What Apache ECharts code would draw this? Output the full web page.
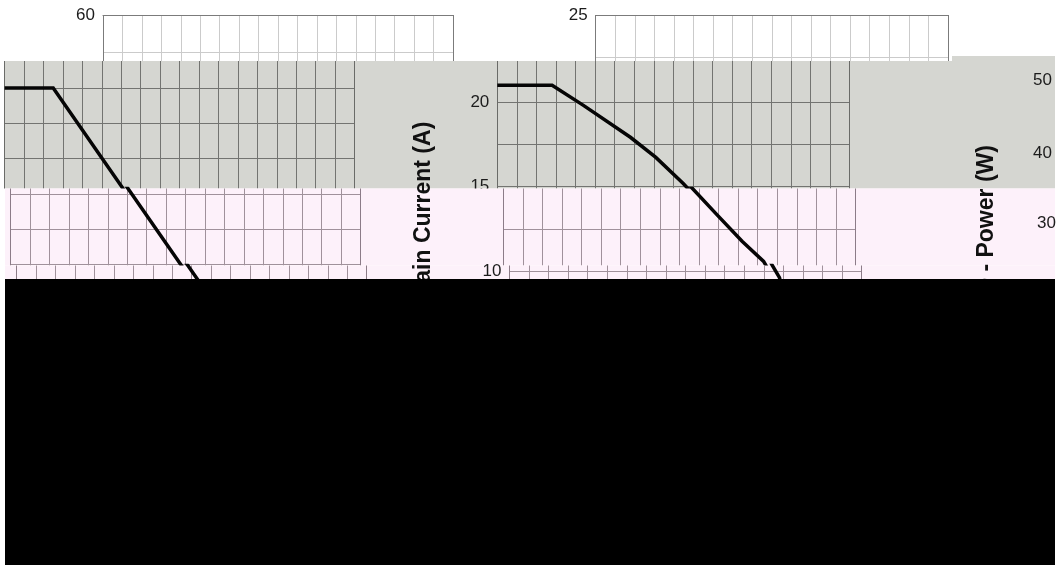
<!DOCTYPE html>
<html>
<head>
<meta charset="utf-8">
<script src="https://cdn.jsdelivr.net/npm/echarts@6/dist/echarts.min.js"></script>
<style>
html,body{margin:0;padding:0;background:#ffffff;}
#c{width:1059px;height:565px;}
</style>
</head>
<body>
<div id="c"></div>
<script>
// ---------------- data ----------------
// Chart 1 : drain current derating (A) vs case temperature (°C)
const chart1Temp    = [0, 25, 150];
const chart1Current = [50, 50, 0];
// Chart 2 : drain current (A) vs case temperature (°C)
const chart2Temp    = [0, 28, 44, 68, 81, 95, 109, 122, 133, 138, 145, 148, 150];
const chart2Current = [21, 21, 19.8, 17.9, 16.7, 15.15, 13.4, 11.8, 10.6, 9.6, 6.3, 4.0, 0];
// x axis (temperature) range and step
const xMin = 0, xMax = 180, xStep = 10;
// y grid lines and tick labels
const chart1GridValues  = [0, 5, 10, 15, 20, 25, 30, 35, 40, 45, 50, 55, 60];
const chart1LabelValues = [0, 10, 20, 30, 40, 50, 60];
const chart2GridValues  = [0, 2.5, 5, 7.5, 10, 12.5, 15, 17.5, 20, 22.5, 25];
const chart2LabelValues = [0, 5, 10, 15, 20, 25];
const chart3LabelValues = [0, 10, 20, 30, 40, 50, 60];
const chart2Title = 'ID - Drain Current (A)';
const chart3Title = 'PD - Power (W)';

// ---------------- layout (image bands) ----------------
const FONT = '"Liberation Sans", Arial, sans-serif';
const BANDS = [
  {top: 15,    bottom: 61,    dx: 0,     dy: 0,   bg: null,      line: '#cbcbcb', border: '#7b7b7b', labels1: true},
  {top: 61,    bottom: 188.5, dx: -98.4, dy: 3,   bg: '#d5d6d1', line: '#737471', border: '#6a6b68', labels1: false},
  {top: 188.5, bottom: 265.5, dx: -92.4, dy: 4.5, bg: '#fdf1fa', line: '#a0919b', border: '#8c7c88', labels1: false},
  {top: 265.5, bottom: 279,   dx: -86.3, dy: 4,   bg: '#fdf1fa', line: '#a0919b', border: '#8c7c88', labels1: false}
];
const CHARTS = [
  {left: 103,   width: 350,   top0: 15, vTop: 60, ppu: 7,    ppuA: 7.4,
   grid: chart1GridValues, labels: chart1LabelValues, temp: chart1Temp, val: chart1Current, id: 1},
  {left: 595.7, width: 352.3, top0: 15, vTop: 25, ppu: 16.8, ppuA: 16.8,
   grid: chart2GridValues, labels: chart2LabelValues, temp: chart2Temp, val: chart2Current, id: 2}
];
const CHART3 = {
  1: {left: 1060, anchorVal: 50, anchorY: 80,    ppu: 7.38},
  2: {left: 1064, anchorVal: 30, anchorY: 223.3, ppu: 7.38}
};

function inRange(arr, lo, hi) { return arr.filter(v => v >= lo - 1e-6 && v <= hi + 1e-6); }

const grids = [], xAxes = [], yAxes = [], series = [], graphics = [];

BANDS.forEach((b, bi) => {
  const z = 10 * bi + 5;
  if (b.bg) {
    graphics.push({type: 'rect', silent: true, z: 10 * bi + 1,
      shape: {x: 5, y: b.top, width: 1050, height: b.bottom - b.top}, style: {fill: b.bg}});
  }
  CHARTS.forEach(c => {
    const y0 = c.top0 + b.dy;
    const ppu = bi === 0 ? c.ppuA : c.ppu;
    const max = c.vTop - (b.top - y0) / ppu;
    const min = c.vTop - (b.bottom - y0) / ppu;
    const gi = grids.length;
    grids.push({left: c.left + b.dx, top: b.top, width: c.width, height: b.bottom - b.top,
      containLabel: false, outerBoundsMode: 'none', show: false, z: z});
    const nLines = Math.round((xMax - xMin) / xStep) + 1;
    const xColors = [];
    for (let i = 0; i < nLines; i++) xColors.push((i === 0 || i === nLines - 1) ? b.border : b.line);
    xAxes.push({gridIndex: gi, type: 'value', min: xMin, max: xMax, interval: xStep,
      position: bi === 0 ? 'top' : 'bottom', z: z,
      axisLine: {show: bi === 0, onZero: false, lineStyle: {color: b.border, width: 1}},
      axisTick: {show: false}, axisLabel: {show: false},
      splitLine: {show: true, lineStyle: {color: xColors, width: 1}}});
    let gv = inRange(c.grid, min, max);
    if (bi === 0) gv = gv.filter(v => Math.abs(v - c.vTop) > 1e-6);
    const showLab = (c.id === 2) || b.labels1;
    yAxes.push({gridIndex: gi, type: 'value', min: min, max: max, z: z,
      axisLine: {show: false},
      axisTick: {show: false, customValues: gv},
      axisLabel: {show: showLab, customValues: inRange(c.labels, min, max), margin: 8,
        fontSize: 17, color: '#1c1c1c', fontFamily: FONT},
      splitLine: {show: gv.length > 0, lineStyle: {color: b.line, width: 1}}});
    series.push({type: 'line', xAxisIndex: gi, yAxisIndex: gi, z: z + 1,
      data: c.temp.map((t, i) => [t, c.val[i]]),
      symbol: 'none', showSymbol: false, clip: true, silent: true,
      lineStyle: {color: '#050505', width: 3.5, join: 'miter'}});
  });
  // third chart (only its value labels are visible)
  const c3 = CHART3[bi];
  if (c3) {
    const max = c3.anchorVal + (c3.anchorY - b.top) / c3.ppu;
    const min = c3.anchorVal - (b.bottom - c3.anchorY) / c3.ppu;
    const gi = grids.length;
    grids.push({left: c3.left, top: b.top, width: 300, height: b.bottom - b.top,
      containLabel: false, outerBoundsMode: 'none', show: false, z: z});
    xAxes.push({gridIndex: gi, type: 'value', min: xMin, max: xMax, show: false});
    yAxes.push({gridIndex: gi, type: 'value', min: min, max: max, z: z,
      axisLine: {show: false}, axisTick: {show: false},
      axisLabel: {show: true, customValues: inRange(chart3LabelValues, min, max), margin: 8,
        fontSize: 17, color: '#1c1c1c', fontFamily: FONT},
      splitLine: {show: false}});
  }
});

// small gray step at the top right of the gray band
graphics.push({type: 'rect', silent: true, z: 11,
  shape: {x: 952, y: 56, width: 103, height: 5}, style: {fill: '#d5d6d1'}});

// axis titles
graphics.push({type: 'text', silent: true, z: 90, x: 424, y: 236.7, rotation: Math.PI / 2,
  style: {text: chart2Title, font: 'bold 23px ' + FONT, fill: '#111111',
    align: 'center', verticalAlign: 'middle', textAlign: 'center', textVerticalAlign: 'middle'}});
graphics.push({type: 'text', silent: true, z: 90, x: 987, y: 227.5, rotation: Math.PI / 2,
  style: {text: chart3Title, font: 'bold 23px ' + FONT, fill: '#111111',
    align: 'center', verticalAlign: 'middle', textAlign: 'center', textVerticalAlign: 'middle'}});

// black lower block
graphics.push({type: 'rect', silent: true, z: 100,
  shape: {x: 5, y: 279, width: 1050, height: 286}, style: {fill: '#000000'}});

const chart = echarts.init(document.getElementById('c'), null, {renderer: 'canvas'});
chart.setOption({
  animation: false,
  backgroundColor: '#ffffff',
  grid: grids,
  xAxis: xAxes,
  yAxis: yAxes,
  series: series,
  graphic: {elements: graphics}
});
</script>
</body>
</html>
